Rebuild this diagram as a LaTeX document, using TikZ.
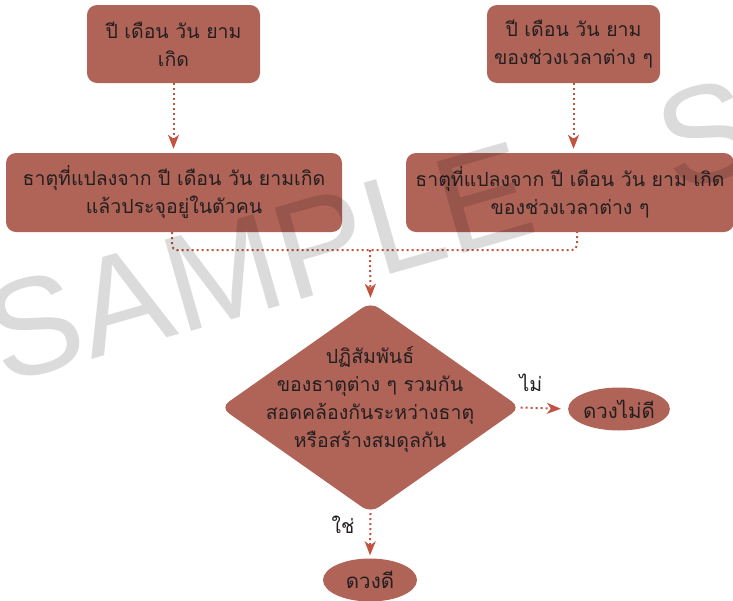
\documentclass[tikz,border=0pt]{standalone}
\usepackage{fontspec}
\setmainfont[Script=Thai]{Loma}
\newfontfamily\wmfont{Liberation Sans}
\usetikzlibrary{shapes.geometric,arrows.meta}
\definecolor{boxc}{RGB}{176,100,88}
\definecolor{arrc}{RGB}{192,84,64}
\definecolor{txtc}{RGB}{35,31,32}
\begin{document}
\begin{tikzpicture}[x=1pt,y=-1pt,
  thai/.style={text=txtc, align=center, font=\fontsize{19.5}{28}\selectfont},
  box/.style={thai, fill=boxc, rounded corners=10pt, inner sep=0pt},
  oval/.style={thai, ellipse, fill=boxc, inner sep=0pt, minimum width=94pt, minimum height=43pt, font=\fontsize{20.5}{28}\selectfont},
  conn/.style={draw=arrc, line width=2pt, dash pattern=on 2pt off 3pt},
  tip/.style={-{Stealth[length=14pt,width=11pt,inset=4pt]}}
]
\useasboundingbox (0,0) rectangle (733,600);
\clip (0,0) rectangle (733,600);
\node[box, minimum width=173pt, minimum height=78pt] (b1) at (173.5,44) {ปี เดือน วัน ยาม\\เกิด};
\node[box, minimum width=173pt, minimum height=78pt] (b2) at (573.5,44) {ปี เดือน วัน ยาม\\ของช่วงเวลาต่าง ๆ};
\node[box, minimum width=336pt, minimum height=79pt] (b3) at (174,192.5) {ธาตุที่แปลงจาก ปี เดือน วัน ยามเกิด\\แล้วประจุอยู่ในตัวคน};
\node[box, minimum width=328pt, minimum height=79pt] (b4) at (570,192.5) {ธาตุที่แปลงจาก ปี เดือน วัน ยาม เกิด\\ของช่วงเวลาต่าง ๆ};
\node[diamond, fill=boxc, rounded corners=10pt, minimum width=300pt, minimum height=211pt, inner sep=0pt] (d) at (370.5,407.5) {};
\node[thai] (dt) at (370,399) {ปฏิสัมพันธ์\\ของธาตุต่าง ๆ รวมกัน\\สอดคล้องกันระหว่างธาตุ\\หรือสร้างสมดุลกัน};
\node[oval] (e1) at (619,409) {ดวงไม่ดี};
\node[oval] (e2) at (370,580) {ดวงดี};
\node[thai] (no) at (531,383) {ไม่};
\node[thai] (yes) at (343,525) {ใช่};
\coordinate (m) at (370,250);
\draw[conn, tip, shorten >=4pt] (b1.south) -- (b1.south |- b3.north);
\draw[conn, tip, shorten >=4pt] (b2.south) -- (b2.south |- b4.north);
\draw[conn, rounded corners=5pt] ([xshift=-2pt]b3.south) |- (m) -| ([xshift=7pt]b4.south);
\draw[conn, tip, shorten >=4pt] (m) -- (d.north);
\draw[conn, tip, shorten >=7pt] (d.east) -- (e1.west);
\draw[conn, tip, shorten >=3pt] (d.south) -- (e2.north);
\node[anchor=base west, rotate=16, text=black, text opacity=0.14, inner sep=0pt, font=\wmfont\fontsize{138}{138}\selectfont] (wm) at (3,385) {SAMPLE\hspace{1.0em}SAMPLE};
\end{tikzpicture}
\end{document}
